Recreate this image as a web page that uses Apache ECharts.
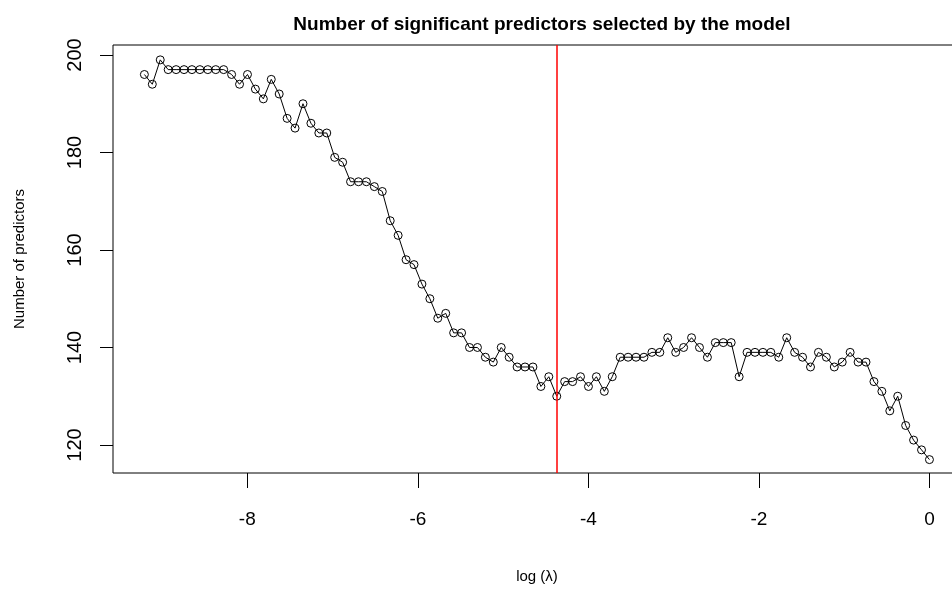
<!DOCTYPE html>
<html>
<head>
<meta charset="utf-8">
<script src="https://cdn.jsdelivr.net/npm/echarts@6/dist/echarts.min.js"></script>
<style>html,body{margin:0;padding:0;background:#fff;}#c{width:952px;height:589px;}</style>
</head>
<body>
<div id="c"></div>
<script>
var logLambda = [-9.207,-9.114,-9.021,-8.928,-8.835,-8.742,-8.649,-8.556,-8.463,-8.370,
  -8.277,-8.184,-8.091,-7.998,-7.905,-7.812,-7.719,-7.626,-7.533,-7.440,
  -7.347,-7.254,-7.161,-7.068,-6.975,-6.882,-6.789,-6.696,-6.603,-6.510,
  -6.417,-6.324,-6.231,-6.138,-6.045,-5.952,-5.859,-5.766,-5.673,-5.580,
  -5.487,-5.394,-5.301,-5.208,-5.115,-5.022,-4.929,-4.836,-4.743,-4.650,
  -4.557,-4.464,-4.371,-4.278,-4.185,-4.092,-3.999,-3.906,-3.813,-3.720,
  -3.627,-3.534,-3.441,-3.348,-3.255,-3.162,-3.069,-2.976,-2.883,-2.790,
  -2.697,-2.604,-2.511,-2.418,-2.325,-2.232,-2.139,-2.046,-1.953,-1.860,
  -1.767,-1.674,-1.581,-1.488,-1.395,-1.302,-1.209,-1.116,-1.023,-0.930,
  -0.837,-0.744,-0.651,-0.558,-0.465,-0.372,-0.279,-0.186,-0.093,0];
var nPredictors = [196,194,199,197,197,197,197,197,197,197,
  197,196,194,196,193,191,195,192,187,185,
  190,186,184,184,179,178,174,174,174,173,
  172,166,163,158,157,153,150,146,147,143,
  143,140,140,138,137,140,138,136,136,136,
  132,134,130,133,133,134,132,134,131,134,
  138,138,138,138,139,139,142,139,140,142,
  140,138,141,141,141,134,139,139,139,139,
  138,142,139,138,136,139,138,136,137,139,
  137,137,133,131,127,130,124,121,119,117];
var bestLogLambda = -4.371;
var xTicks = [-8,-6,-4,-2,0];
var yTicks = [120,140,160,180,200];
var titleText = 'Number of significant predictors selected by the model';
var xName = 'log (\u03bb)';
var yName = 'Number of predictors';

var pts = logLambda.map(function(x,i){return [x, nPredictors[i]];});
var font = 'Liberation Sans, Arial, sans-serif';
var chart = echarts.init(document.getElementById('c'), null, {renderer:'canvas'});
chart.setOption({
  animation:false,
  backgroundColor:'#ffffff',
  title:{text:titleText,left:537,textAlign:'center',top:10,
    textStyle:{fontFamily:font,fontWeight:'bold',fontSize:19,color:'#000'}},
  grid:{left:113,top:45,width:848,height:428,show:true,borderColor:'#000',borderWidth:1,
    backgroundColor:'transparent',outerBoundsMode:'none',containLabel:false},
  xAxis:{type:'value',min:-9.575,max:0.37,
    name:xName,nameLocation:'middle',nameGap:96,
    nameTextStyle:{fontFamily:font,fontSize:15,color:'#000'},
    axisLine:{show:false,onZero:false},splitLine:{show:false},
    axisTick:{show:true,length:15,customValues:xTicks,lineStyle:{color:'#000',width:1}},
    axisLabel:{customValues:xTicks,margin:37,fontFamily:font,fontSize:19,color:'#000'}},
  yAxis:{type:'value',min:114.25,max:202.05,
    name:yName,nameLocation:'middle',nameRotate:90,nameGap:86,
    nameTextStyle:{fontFamily:font,fontSize:15,color:'#000'},
    axisLine:{show:false,onZero:false},splitLine:{show:false},
    axisTick:{show:true,length:13,customValues:yTicks,lineStyle:{color:'#000',width:1}},
    axisLabel:{customValues:yTicks,rotate:90,margin:28,fontFamily:font,fontSize:20,color:'#000'}},
  series:[{type:'line',data:pts,symbol:'circle',symbolSize:8,
    lineStyle:{color:'#000',width:1},
    itemStyle:{color:'transparent',borderColor:'#000',borderWidth:1},
    markLine:{silent:true,symbol:['none','none'],label:{show:false},
      lineStyle:{color:'#ff0000',width:1.5,type:'solid'},
      data:[{xAxis:bestLogLambda}]}
  }]
});
</script>
</body>
</html>
